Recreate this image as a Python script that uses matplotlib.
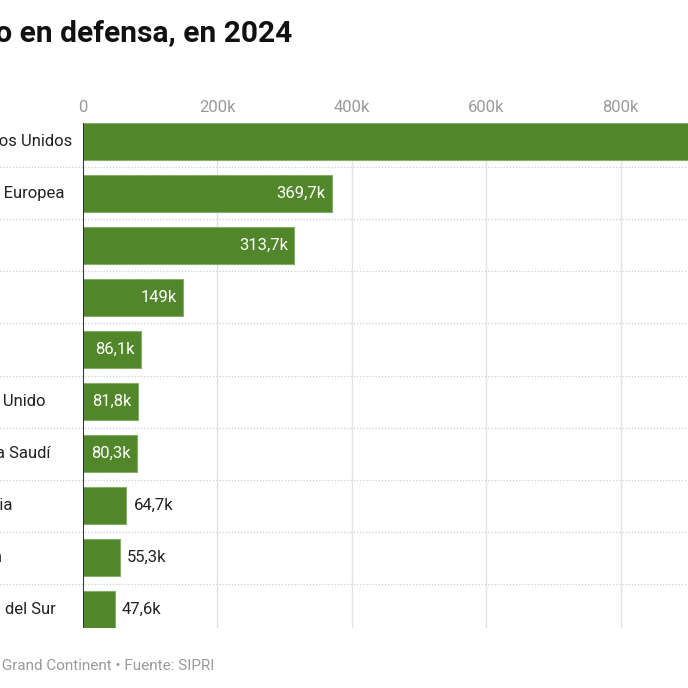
import matplotlib.pyplot as plt
import matplotlib.transforms as mtransforms
from matplotlib.ticker import FuncFormatter

plt.rcParams['font.family'] = ['Roboto', 'DejaVu Sans']

# data (gasto militar 2024, en miles de millones de dólares -> "k")
paises = ["Estados Unidos", "Unión Europea", "China", "Rusia", "India",
          "Reino Unido", "Arabia Saudí", "Ucrania", "Japón", "Corea del Sur"]
gasto = [997.3, 369.7, 313.7, 149.0, 86.1, 81.8, 80.3, 64.7, 55.3, 47.6]
ticks = [0, 200, 400, 600, 800, 1000]

verde = '#52862b'
W = H = 688

fig = plt.figure(figsize=(6.88, 6.88), dpi=100)
ax = fig.add_axes([83 / W, 1 - 628 / H, 1 - 83 / W, (628 - 123) / H])

pos = list(range(len(paises)))
ax.barh(pos, gasto, height=0.71, color=verde, edgecolor='#86ac6b', linewidth=0.8, zorder=3)

# ejes
for s in ax.spines.values():
    s.set_visible(False)
ax.axvline(0, color='#222222', linewidth=1.3, zorder=4)
ax.xaxis.tick_top()
ax.set_xticks(ticks)
ax.xaxis.set_major_formatter(FuncFormatter(lambda v, p: '0' if v == 0 else f'{int(v)}k'))
ax.tick_params(axis='x', length=0, pad=6, labelsize=12, labelcolor='#9a9a9a')
ax.set_yticks([])
ax.grid(axis='x', color='#e3e3e3', linewidth=1, zorder=0)

# separadores punteados entre filas
sep = mtransforms.blended_transform_factory(fig.transFigure, ax.transData)
for i in range(len(paises) - 1):
    ax.plot([0, 1], [i + 0.5, i + 0.5], transform=sep, color='#cfcfcf',
            linestyle=(0, (1, 1.5)), linewidth=0.9, clip_on=False, zorder=1)

# etiquetas de países (alineadas a la izquierda, fuera del lienzo)
for i, p in enumerate(paises):
    ax.text(-43 / W, i, p, transform=sep, ha='left', va='center',
            fontsize=12, color='#222222')

# valores
px = ax.transData
for i, v in enumerate(gasto):
    txt = f'{v:.1f}'.replace('.', ',').replace(',0', '') + 'k'
    if v > 75:
        off = mtransforms.offset_copy(px, fig=fig, x=-6, y=0, units='dots')
        ax.text(v, i, txt, transform=off, ha='right', va='center',
                fontsize=12, color='white', zorder=5)
    else:
        off = mtransforms.offset_copy(px, fig=fig, x=7, y=0, units='dots')
        ax.text(v, i, txt, transform=off, ha='left', va='center',
                fontsize=12, color='#222222', zorder=5)

ax.set_xlim(0, 900)
ax.set_ylim(len(paises) - 1 + 0.355, -0.355)

# título y fuente
fig.text(292 / W, 1 - 42 / H, 'Los países con mayor gasto en defensa, en 2024',
         ha='right', va='baseline', fontsize=21.5, fontweight='bold', color='#111111')
fig.text(214 / W, 1 - 670 / H, 'Gráfico: Le Grand Continent • Fuente: SIPRI',
         ha='right', va='baseline', fontsize=11, color='#9a9a9a')

fig.savefig('out.png', dpi=100)
